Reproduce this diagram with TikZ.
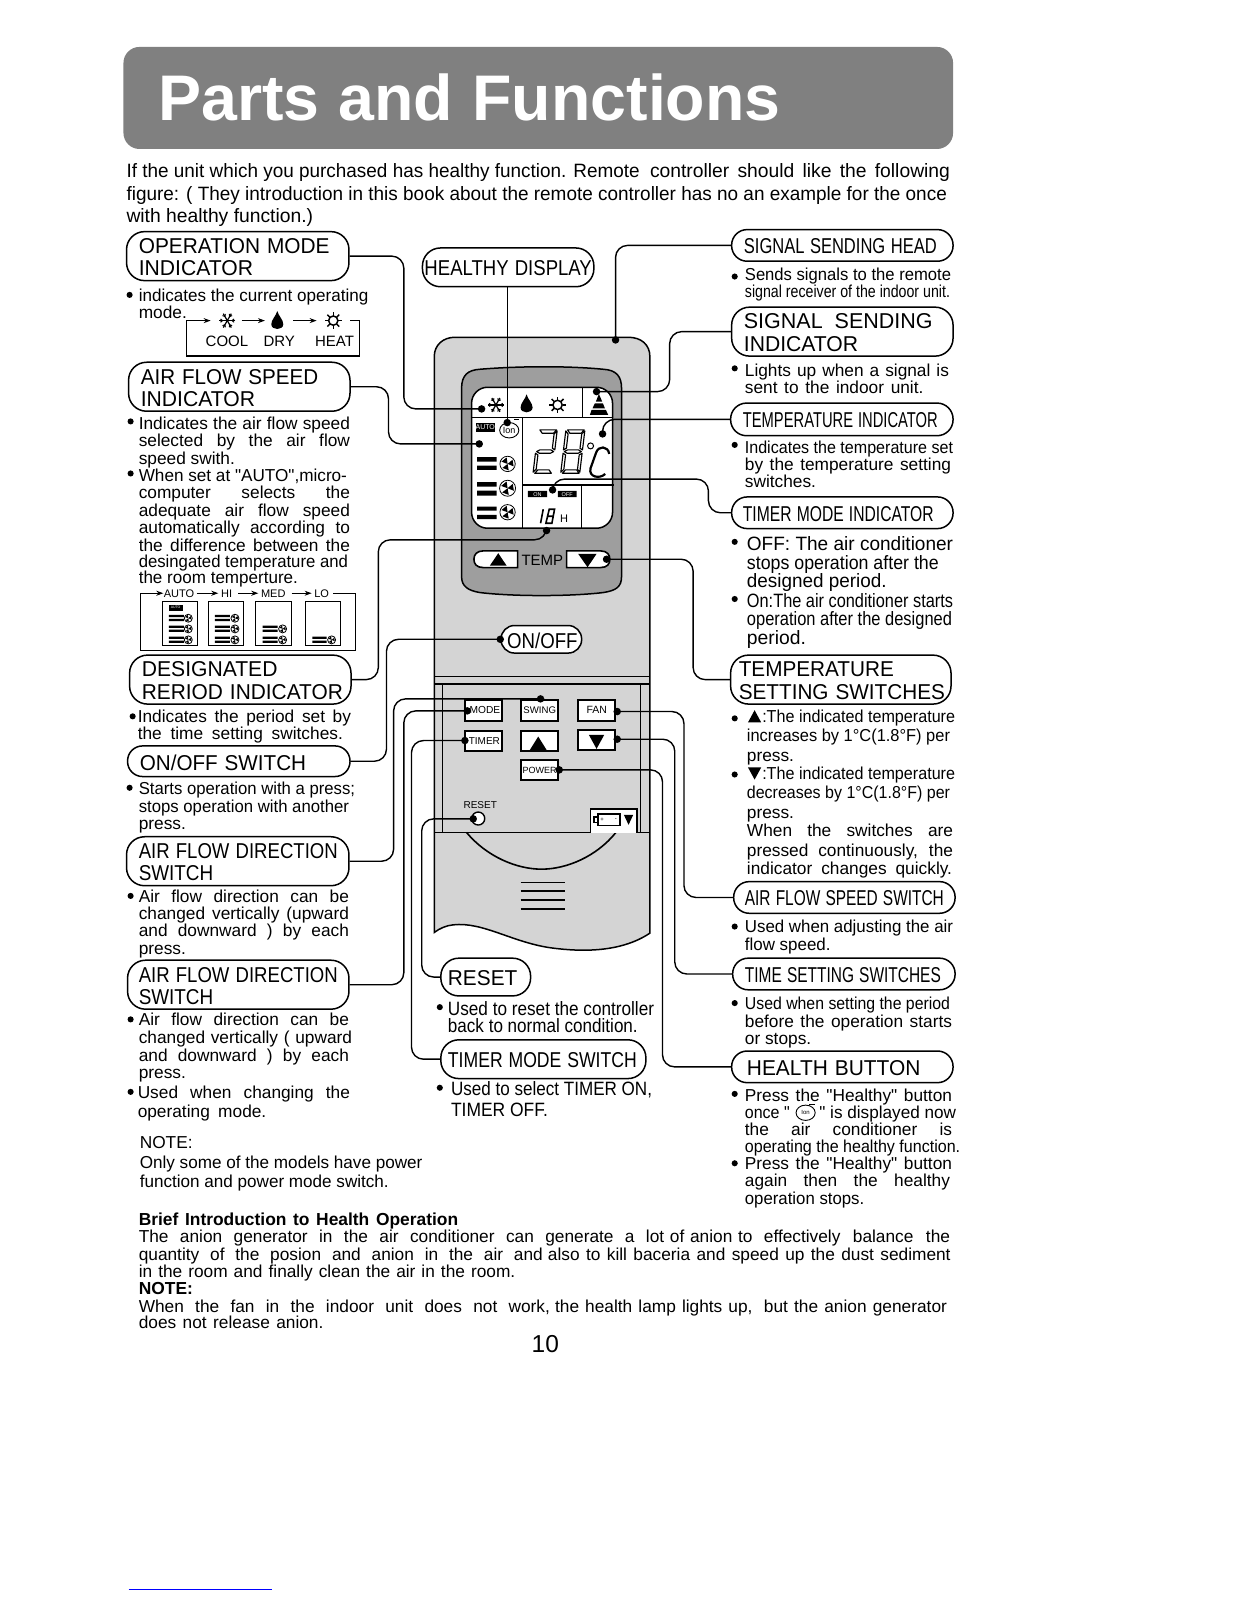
\documentclass[tikz,border=0pt]{standalone}
\usepackage{fontspec}
\usepackage{graphicx}
\setmainfont{Liberation Sans}
\newfontfamily\qf{Liberation Sans}
\usetikzlibrary{arrows.meta}
\definecolor{titleG}{gray}{0.50}
\definecolor{remG}{gray}{0.83}
\definecolor{dispG}{gray}{0.62}
\newlength\tgtw
\newlength\natw
\newcounter{tl}
\newcommand\qt{{\qf\char34 }}
\newcommand\fitline[2]{\setlength\tgtw{#1pt}\setlength\tgtw{1.0206\tgtw}\settowidth\natw{#2}\ifdim\natw<\tgtw\hbox to\tgtw{\spaceskip=\fontdimen2\font plus 1fil\relax #2}\else\resizebox{\tgtw}{\height}{#2}\fi}
\newcommand\BodyF{\fontsize{17.3pt}{20pt}\selectfont}
\newcommand\BigF{\fontsize{19.3pt}{22pt}\selectfont}
\let\curF\BodyF
\newcommand\jt[4]{\stepcounter{tl}\node[tl,font=\curF] (t\thetl) at (#1,#2) {\fitline{#3}{#4}};}
\newcommand\pl[3]{\stepcounter{tl}\node[tl,font=\curF] (t\thetl) at (#1,#2) {#3};}
\newcommand\bul[2]{\fill (#1,#2) circle [radius=3];}
\newcommand\labl[3]{\hspace*{1.0206\dimexpr #1pt\relax}\raisebox{-1pt}[\height][0pt]{\fitline{#2}{#3}}}
\newcommand\lab[6]{\node[lbox,rounded corners={min(18,(#5-#3)/2)*1pt},minimum width={(#4-#2)*1.0206pt},minimum height={(#5-#3)*1.0206pt},text width={(#4-#2)*1.0206pt}] (#1) at ({(#2+#4)/2},{(#3+#5)/2}) {#6};}
% icons, unit radius
\newcommand\fanic[3]{\begin{scope}[shift={(#1,#2)}]\draw[line width=.8pt] (0,0) circle [radius=#3];\foreach \a in {80,200,320}{\fill (0,0) -- (\a:#3*.85) -- (\a+62:#3*.85) -- cycle;}\end{scope}}
\newcommand\snowic[3]{\begin{scope}[shift={(#1,#2)},scale=#3]\foreach \a in {0,60,120}{\draw[line width=1.2pt] (\a:1) -- (\a+180:1);}\foreach \a in {0,60,...,300}{\draw[line width=1pt] (\a:.6) -- ++(\a+40:.32) (\a:.6) -- ++(\a-40:.32);}\end{scope}}
\newcommand\dropic[3]{\begin{scope}[shift={(#1,#2)},scale=#3]\fill (0,-1.2) .. controls (.15,-.6) and (.75,-.1) .. (.75,.45) .. controls (.75,.85) and (.35,1.05) .. (0,1.05) .. controls (-.35,1.05) and (-.75,.85) .. (-.75,.45) .. controls (-.75,-.1) and (-.15,-.6) .. (0,-1.2) -- cycle;\end{scope}}
\newcommand\sunic[3]{\begin{scope}[shift={(#1,#2)},scale=#3]\draw[line width=1.5pt] (0,0) circle [radius=.58];\foreach \a in {0,45,...,315}{\draw[line width=1.5pt] (\a:.62) -- (\a:1.05);}\end{scope}}
\newcommand\ionic[5]{\begin{scope}[shift={(#1,#2)},scale=#3]\draw[line width=.9pt] (0,0) ellipse [x radius=1.25,y radius=1];\node[inner sep=0pt,font=\fontsize{#4pt}{#4pt}\selectfont] (#5) at (0,0) {Ion};\end{scope}}
\newcommand\segT{\draw[seg] (5,0)--(55,0)--(47,10)--(13,10)--cycle;}
\newcommand\segUR{\draw[seg] (57,3)--(57,60)--(49,55)--(49,12)--cycle;}
\newcommand\segUL{\draw[seg] (0,3)--(8,12)--(8,55)--(0,60)--cycle;}
\newcommand\segM{\draw[seg] (3,65)--(12,60)--(45,60)--(54,65)--(45,70)--(12,70)--cycle;}
\newcommand\segLR{\draw[seg] (57,70)--(57,127)--(49,118)--(49,75)--cycle;}
\newcommand\segLL{\draw[seg] (0,70)--(8,75)--(8,118)--(0,127)--cycle;}
\newcommand\segB{\draw[seg] (5,130)--(13,120)--(47,120)--(55,130)--cycle;}
\newcommand\bars[3]{\fill (#1,#3-10) rectangle (#2,#3-3) (#1,#3+2) rectangle (#2,#3+9);}
\tikzset{
 tl/.style={anchor=base west,inner sep=0pt,outer sep=0pt},
 lbox/.style={draw,line width=1.5pt,fill=white,inner sep=0pt,align=left,font=\fontsize{21.5pt}{22.4pt}\selectfont},
 conn/.style={line width=1.4pt,rounded corners=12pt},
 dot/.style={circle,fill=black,inner sep=0pt,minimum size=7.5pt},
 key/.style={draw,line width=1.9pt,fill=white,inner sep=0pt,minimum width=37pt,minimum height=20.5pt},
 seg/.style={draw,line width=1.15pt,fill=white,line join=round},
 arr/.style={line width=1pt,-{Stealth[length=7pt,width=5pt]}},
 zscale/.style={x=.33333pt,y=-.33333pt},
 smtxt/.style={inner sep=0pt}
}
\begin{document}
\begin{tikzpicture}[x=1.0206pt,y=-1.0206pt]
\useasboundingbox (0,0) rectangle (1212,1568);
% title
\node[draw=none,fill=titleG,rounded corners=16pt,minimum width={813*1.0206pt},minimum height={100*1.0206pt},inner sep=0pt] (titlebar) at (527.5,96) {};
\node[tl,text=white,font=\fontsize{64.5pt}{66pt}\bfseries\selectfont] (titletext) at (155,118) {\fitline{610}{Parts and Functions}};
% intro
\let\curF\BigF
\jt{124}{174}{503}{If the unit which you purchased has healthy function. Remote}
\jt{637}{174}{294}{controller should  like  the  following}
\jt{124}{196}{804}{figure: ( They introduction in this book about the remote controller has no an example for the once}
\pl{124}{218}{with healthy function.)}
% remote body
\begin{scope}[shift={(411.52,313.54)},zscale]
\filldraw[fill=remG,line width=1.5pt] (43,110) .. controls (43,75) and (70,52) .. (105,52) -- (625,52) .. controls (665,52) and (690,75) .. (690,110) -- (690,1840) .. controls (600,1900) and (480,1895) .. (400,1885) .. controls (280,1870) and (190,1805) .. (100,1815) .. controls (80,1817) and (60,1825) .. (43,1838) -- cycle;
\filldraw[fill=dispG,line width=1.5pt] (125,205) .. controls (125,165) and (145,150) .. (180,148) .. controls (300,138) and (450,138) .. (550,148) .. controls (590,150) and (605,170) .. (605,205) -- (605,770) .. controls (605,800) and (590,812) .. (550,818) .. controls (450,830) and (280,830) .. (180,818) .. controls (145,812) and (125,800) .. (125,770) -- cycle;
\filldraw[fill=white,line width=1.5pt,rounded corners=16pt] (155,202) rectangle (578,625);
\draw[line width=1.4pt] (155,292) -- (578,292) (487,205) -- (487,292) (307,292) -- (307,623) (307,495) -- (582,495) (484,495) -- (484,623);
\snowic{228}{255}{24}
\dropic{320}{252}{24}
\sunic{413}{255}{24}
\fill (537,222) -- (528,245) -- (547,245) -- cycle;
\fill (525,250) -- (549,250) -- (555,265) -- (518,265) -- cycle;
\fill (515,270) -- (558,270) -- (565,285) -- (510,285) -- cycle;
\fill (168,308) rectangle (225,337);
\node[smtxt,text=white,font=\fontsize{7pt}{7pt}\selectfont] (autoT) at (196,322) {AUTO};
\ionic{268}{331}{23}{9}{ionA}
\draw[line width=1pt] (283,300) -- (298,300);
\fill (172,412) rectangle (230,425) (172,437) rectangle (230,450);
\fanic{263}{432}{23}
\fill (172,487) rectangle (230,500) (172,512) rectangle (230,527);
\fanic{263}{505}{24}
\fill (172,560) rectangle (230,572) (172,585) rectangle (230,598);
\fanic{263}{577}{23}
\begin{scope}[shift={(355,330)},xslant=.12]\segT\segUR\segM\segLL\segB\end{scope}
\begin{scope}[shift={(438,330)},xslant=.12]\segT\segUR\segUL\segM\segLR\segLL\segB\end{scope}
\draw[line width=1pt] (512,378) circle [radius=9];
\draw[line width=2.2pt] (568,402) .. controls (565,378) and (535,375) .. (528,400) -- (512,445) .. controls (505,472) and (540,478) .. (556,462);
\fill (324,513) rectangle (382,532) (414,513) rectangle (470,532);
\node[smtxt,text=white,font=\fontsize{5.5pt}{6pt}\selectfont] (onT) at (353,523) {ON};
\node[smtxt,text=white,font=\fontsize{5.5pt}{6pt}\selectfont] (offT) at (442,523) {OFF};
\draw[line width=1.6pt] (370,568) -- (362,610) (388,568) -- (404,568) -- (396,610) -- (378,610) -- cycle (383,589) -- (400,589);
\node[tl,font=\fontsize{11pt}{12pt}\selectfont] (hT) at (421,608) {H};
% temp buttons
\filldraw[fill=white,line width=1.6pt] (293,693) -- (190,693) .. controls (170,693) and (162,705) .. (162,718) .. controls (162,732) and (170,743) .. (190,743) -- (293,743) -- cycle;
\fill (210,737) -- (260,737) -- (235,700) -- cycle;
\node[tl,font=\fontsize{15pt}{16pt}\selectfont] (tempT) at (305,737) {TEMP};
\filldraw[fill=white,line width=1.6pt] (440,693) -- (542,693) .. controls (562,693) and (570,705) .. (570,718) .. controls (570,732) and (562,743) .. (542,743) -- (440,743) -- cycle;
\fill (475,702) -- (530,702) -- (503,742) -- cycle;
\node[dot] (dA) at (185,267) {};
\node[dot] (dB) at (178,372) {};
\node[dot] (dC) at (380,632) {};
\node[dot] (dG) at (262,308) {};
\node[dot] (dH) at (587,60) {};
\node[dot] (dI) at (530,215) {};
\node[dot] (dJ) at (548,342) {};
\node[dot] (dK) at (398,510) {};
\node[dot] (dL) at (560,718) {};
\end{scope}
% lower part of the remote
\begin{scope}[shift={(411.52,646.68)},zscale]
\draw[line width=1.4pt] (43,50) -- (690,50) (43,72) -- (690,72) (68,72) -- (68,518) (662,72) -- (662,518) (43,518) -- (690,518);
\draw[line width=1.6pt] (140,518) .. controls (200,590) and (290,628) .. (365,628) .. controls (440,628) and (530,590) .. (588,518);
\draw[line width=1.5pt] (302,668) -- (436,668) (302,693) -- (436,693) (302,720) -- (436,720) (302,748) -- (436,748);
\node[key,font=\fontsize{10.2pt}{11pt}\selectfont] (kMode) at (190.5,151.5) {\hspace*{3pt}MODE};
\node[key,font=\fontsize{9.6pt}{11pt}\selectfont] (kSwing) at (359.5,151.5) {SWING};
\node[key,font=\fontsize{10.5pt}{11pt}\selectfont] (kFan) at (530.5,151.5) {FAN};
\node[key,font=\fontsize{10pt}{11pt}\selectfont] (kTimer) at (190.5,243.5) {\hspace*{2pt}TIMER};
\node[key] (kUp) at (359.5,243.5) {};
\node[key] (kDown) at (530.5,240.5) {};
\node[key,font=\fontsize{9pt}{11pt}\selectfont] (kPower) at (359.5,331) {POWER};
\fill (330,270) -- (380,270) -- (355,230) -- cycle;
\fill (507,225) -- (553,225) -- (530,267) -- cycle;
\node[anchor=base,smtxt,font=\fontsize{10pt}{11pt}\selectfont] (resetT) at (181,447) {RESET};
\node[draw,circle,fill=white,line width=1.4pt,minimum size=13pt,inner sep=0pt] (resetB) at (175,476) {};
\filldraw[fill=white,line width=1.6pt] (512,518) -- (512,447) -- (652,447) -- (652,518);
\draw[line width=1.5pt] (535,463) rectangle (600,497) (523,472) rectangle (535,488);
\node[smtxt,font=\fontsize{6pt}{6pt}\selectfont] (plusT) at (547,481) {+};
\node[smtxt,font=\fontsize{6pt}{6pt}\selectfont] (minusT) at (588,480) {-};
\fill (612,465) -- (640,465) -- (626,495) -- cycle;
\node[dot] (dE) at (362,117) {};
\node[dot] (dF) at (142,153) {};
\node[dot] (dM) at (592,155) {};
\node[dot] (dN) at (592,238) {};
\node[dot] (dO) at (418,330) {};
\node[dot] (dP) at (160,477) {};
\node[dot] (dQ) at (135,242) {};
\end{scope}
% labels
\lab{opmode}{124}{227}{342}{275}{\labl{12}{187}{OPERATION MODE}\\\labl{12}{112}{INDICATOR}}
\lab{afs}{126}{355}{343}{403}{\labl{12}{174}{AIR FLOW SPEED}\\\labl{12}{112}{INDICATOR}}
\lab{desig}{127}{642}{344}{690}{\labl{12}{133}{DESIGNATED}\\\labl{12}{197}{RERIOD INDICATOR}}
\lab{onoffsw}{125}{731}{343}{761}{\labl{12}{163}{ON/OFF SWITCH}}
\lab{afd1}{124}{820}{342}{868}{\labl{12}{195}{AIR FLOW DIRECTION}\\\labl{12}{73}{SWITCH}}
\lab{afd2}{125}{941}{342}{989}{\labl{11}{195}{AIR FLOW DIRECTION}\\\labl{11}{73}{SWITCH}}
\lab{healthy}{414}{243}{582}{281}{\labl{2}{164}{HEALTHY DISPLAY}}
\lab{onofflab}{491}{613}{570}{640}{\labl{6}{69}{ON/OFF}}
\lab{reset}{432}{939}{520}{976}{\labl{7}{68}{RESET}}
\lab{tms}{432}{1019}{633}{1057}{\labl{7}{185}{TIMER MODE SWITCH}}
\lab{ssh}{717}{225}{934}{256}{\labl{12}{189}{SIGNAL SENDING HEAD}}
\lab{ssi}{717}{301}{934}{349}{\labl{12}{185}{SIGNAL   SENDING}\\\labl{12}{112}{INDICATOR}}
\lab{ti}{716}{395}{934}{427}{\labl{12}{191}{TEMPERATURE INDICATOR}}
\lab{tmi}{717}{487}{934}{518}{\labl{11}{187}{TIMER MODE INDICATOR}}
\lab{tss}{716}{642}{932}{690}{\labl{8}{152}{TEMPERATURE}\\\labl{8}{202}{SETTING SWITCHES}}
\lab{afss}{719}{864}{936}{895}{\labl{11}{195}{AIR FLOW SPEED SWITCH}}
\lab{tsets}{718}{939}{936}{970}{\labl{12}{192}{TIME SETTING SWITCHES}}
\lab{hb}{717}{1030}{934}{1061}{\labl{15}{170}{HEALTH BUTTON}}
% connectors
\draw[conn] (opmode.east) -- ++(53,0) |- (dA.center);
\draw[conn] (afs.east) -- ++(37,0) |- (dB.center);
\draw[conn] (desig.east) -- ++(26,0) -- ++(0,-137) -| (dC.center);
\draw[conn] (onoffsw.east) -- ++(35,0) |- (onofflab.west);
\node[dot] (dOn) at (onofflab.west) {};
\draw[conn] (afd1.east) -- ++(43,0) |- (dE.center);
\draw[conn] (afd2.east) -- ++(53,0) |- (dF.center);
\draw[conn] (dG |- healthy.south) -- (dG.center);
\draw[conn] (ssh.west) -| (dH.center);
\draw[conn] (ssi.west) -- ++(-60,0) |- (dI.center);
\draw[conn] (ti.west) -| (dJ.center);
\draw[conn] (tmi.west) -- ++(-22,0) -- ++(0,-33) -| (dK.center);
\draw[conn] (tss.west) -- ++(-36,0) |- (dL.center);
\draw[conn] (afss.west) -- ++(-48,0) |- (dM.center);
\draw[conn] (tsets.west) -- ++(-56,0) |- (dN.center);
\draw[conn] (hb.west) -- ++(-67,0) |- (dO.center);
\draw[conn] (reset.west) -- ++(-18,0) |- (dP.center);
\draw[conn] (tms.west) -- ++(-28,0) |- (dQ.center);
% left column text
\let\curF\BodyF
\bul{127}{289}
\jt{136}{295}{225}{indicates the current operating}
\pl{136}{312}{mode.}
\begin{scope}[shift={(117.58,225.36)},zscale]
\draw[line width=1.2pt] (270,272) -- (200,272) -- (200,378) -- (718,378) -- (718,272) -- (690,272);
\draw[arr] (215,272) -- (272,272);
\snowic{322}{272}{24}
\draw[arr] (365,272) -- (435,272);
\dropic{472}{272}{24}
\draw[arr] (520,272) -- (590,272);
\sunic{640}{272}{24}
\node[anchor=base,smtxt,font=\fontsize{15pt}{16pt}\selectfont] (coolT) at (321,350) {COOL};
\node[anchor=base,smtxt,font=\fontsize{15pt}{16pt}\selectfont] (dryT) at (478,350) {DRY};
\node[anchor=base,smtxt,font=\fontsize{15pt}{16pt}\selectfont] (heatT) at (644,350) {HEAT};
\end{scope}
\bul{128}{413}
\jt{136}{421}{207}{Indicates  the air flow speed}
\jt{136}{438}{207}{selected   by  the  air  flow}
\pl{136}{455}{speed swith.}
\bul{128}{464}
\jt{136}{472}{204}{When set at \qt AUTO\qt ,micro-}
\jt{136}{489}{207}{computer    selects    the}
\jt{136}{506}{207}{adequate  air  flow  speed}
\jt{136}{523}{207}{automatically  according  to}
\jt{136}{540}{207}{the  difference  between  the}
\jt{136}{556}{205}{desingated temperature and}
\jt{136}{572}{156}{the room temperture.}
\begin{scope}[shift={(127.38,568.30)},zscale]
\draw[line width=.8pt] (32,40) -- (32,212) -- (676,212) -- (676,40) -- (610,40);
\draw[arr] (32,40) -- (100,40);
\draw[arr] (200,40) -- (265,40);
\draw[arr] (325,40) -- (385,40);
\draw[arr] (485,40) -- (545,40);
\node[anchor=base,smtxt,font=\fontsize{11pt}{12pt}\selectfont] (sAuto) at (147,52) {AUTO};
\node[anchor=base,smtxt,font=\fontsize{11pt}{12pt}\selectfont] (sHi) at (290,52) {HI};
\node[anchor=base,smtxt,font=\fontsize{11pt}{12pt}\selectfont] (sMed) at (430,52) {MED};
\node[anchor=base,smtxt,font=\fontsize{11pt}{12pt}\selectfont] (sLo) at (575,52) {LO};
\draw[line width=1pt] (97,66) rectangle (203,198) (235,66) rectangle (340,198) (378,66) rectangle (484,198) (527,66) rectangle (632,198);
\fill (117,75) rectangle (158,92);
\node[smtxt,text=white,font=\fontsize{3.5pt}{4pt}\selectfont] (miniAuto) at (137,83) {AUTO};
\bars{117}{162}{115}\fanic{175}{115}{12}
\bars{117}{162}{147}\fanic{175}{147}{12}
\bars{117}{162}{180}\fanic{175}{180}{12}
\bars{255}{300}{115}\fanic{315}{115}{12}
\bars{255}{300}{147}\fanic{315}{147}{12}
\bars{255}{300}{180}\fanic{315}{180}{12}
\bars{398}{443}{147}\fanic{458}{147}{12}
\bars{398}{443}{180}\fanic{458}{180}{12}
\bars{547}{590}{180}\fanic{605}{180}{12}
\end{scope}
\bul{130}{702}
\jt{135}{708}{209}{Indicates  the  period  set by}
\jt{135}{725}{201}{the  time  setting  switches.}
\bul{127}{772}
\jt{136}{779}{212}{Starts operation with a press;}
\jt{136}{796}{206}{stops operation with another}
\pl{136}{813}{press.}
\bul{128}{878}
\jt{136}{884}{206}{Air  flow  direction  can  be}
\jt{136}{901}{206}{changed  vertically  (upward}
\jt{136}{918}{206}{and  downward  )  by  each}
\pl{136}{935}{press.}
\bul{128}{999}
\jt{136}{1005}{206}{Air  flow  direction  can  be}
\jt{136}{1023}{209}{changed  vertically ( upward}
\jt{136}{1040}{206}{and  downward )  by  each}
\pl{136}{1057}{press.}
\bul{128}{1070}
\jt{135}{1077}{208}{Used  when  changing  the}
\jt{135}{1095}{126}{operating  mode.}
\pl{137}{1126}{NOTE:}
\jt{137}{1145}{277}{Only some of the models have power}
\jt{137}{1164}{244}{function and power mode switch.}
% bottom text
\stepcounter{tl}\node[tl,font=\fontsize{17.4pt}{20pt}\bfseries\selectfont] (briefT) at (136,1201) {\fitline{313}{Brief Introduction to Health Operation}};
\jt{136}{1218}{486}{The  anion  generator  in  the  air  conditioner  can  generate  a}
\jt{633}{1218}{104.5}{lot of anion to}
\jt{748.6}{1218}{182.4}{effectively  balance  the}
\jt{136}{1235}{396}{quantity  of  the  posion  and  anion  in  the  air  and}
\jt{537}{1235}{394.6}{also to kill baceria and speed up the dust sediment}
\jt{136}{1252}{369}{in the room and finally clean the air in the room.}
\node[tl,font=\fontsize{17.4pt}{20pt}\bfseries\selectfont] (noteT) at (136,1269) {NOTE:};
\jt{136}{1286}{403}{When  the  fan  in  the  indoor  unit  does  not  work,}
\jt{544}{1286}{193.5}{the health lamp lights up,}
\jt{748.6}{1286}{179.4}{but the anion generator}
\jt{136}{1302}{181}{does not release anion.}
\node[tl,font=\fontsize{24.5pt}{26pt}\selectfont] (pageNo) at (521,1325) {10};
% middle text
\let\curF\BigF
\bul{431}{987}
\jt{439}{995}{202}{Used to reset the controller}
\jt{439}{1012}{186}{back to normal condition.}
\bul{431}{1066}
\jt{442}{1074}{197}{Used to select TIMER ON,}
\jt{442}{1094}{95}{TIMER OFF.}
% right column text
\let\curF\BodyF
\bul{720}{271}
\jt{730}{275}{202}{Sends  signals  to  the  remote}
\jt{730}{292}{201}{signal receiver of the indoor unit.}
\bul{720}{361}
\jt{730}{369}{200}{Lights  up  when a  signal  is}
\jt{730}{386}{175}{sent  to  the  indoor  unit.}
\bul{720}{436}
\jt{730}{444}{204}{Indicates  the  temperature set}
\jt{730}{461}{202}{by  the   temperature  setting}
\pl{730}{478}{switches.}
\let\curF\BigF
\bul{720}{531}
\jt{732}{539}{202}{OFF: The air conditioner}
\jt{732}{558}{188}{stops operation after the}
\jt{732}{576}{137}{designed period.}
\bul{720}{587}
\jt{732}{595}{202}{On:The air conditioner starts}
\jt{732}{613}{201}{operation after the designed}
\pl{732}{632}{period.}
\let\curF\BodyF
\bul{720}{704}
\fill (739.5,696) -- (733,708) -- (746,708) -- cycle;
\jt{747}{708}{189}{:The indicated temperature}
\jt{732}{727}{199}{increases by 1°C(1.8°F) per}
\pl{732}{746}{press.}
\bul{720}{759}
\fill (739.5,764) -- (733,752) -- (746,752) -- cycle;
\jt{747}{764}{189}{:The indicated temperature}
\jt{732}{783}{199}{decreases by 1°C(1.8°F) per}
\pl{732}{802}{press.}
\jt{732}{820}{202}{When   the   switches   are}
\jt{732}{839}{202}{pressed  continuously,  the}
\jt{732}{857}{201}{indicator  changes  quickly.}
\bul{720}{908}
\jt{730}{914}{204}{Used  when  adjusting  the air}
\jt{730}{931}{84}{flow speed.}
\bul{720}{983}
\jt{730}{989}{201}{Used  when setting the period}
\jt{730}{1007}{203}{before  the  operation starts}
\pl{730}{1024}{or stops.}
\bul{720}{1072}
\jt{730}{1079}{203}{Press  the  \qt Healthy\qt\ button}
\jt{730}{1096}{44}{once \qt}
\ionic{789.5}{1090.5}{7.5}{6}{ionB}
\draw[line width=.8pt] (793,1082) -- (799,1082);
\jt{803}{1096}{134}{\qt\ is displayed now}
\jt{730}{1113}{203}{the    air    conditioner    is}
\jt{730}{1129}{211}{operating the healthy function.}
\bul{720}{1140}
\jt{730}{1146}{203}{Press  the  \qt Healthy\qt\ button}
\jt{730}{1163}{201}{again    then    the    healthy}
\jt{730}{1180}{117}{operation stops.}
% link rule at the page foot
\draw[blue,line width=.8pt] (126,1558) -- (267,1558);
\end{tikzpicture}
\end{document}
